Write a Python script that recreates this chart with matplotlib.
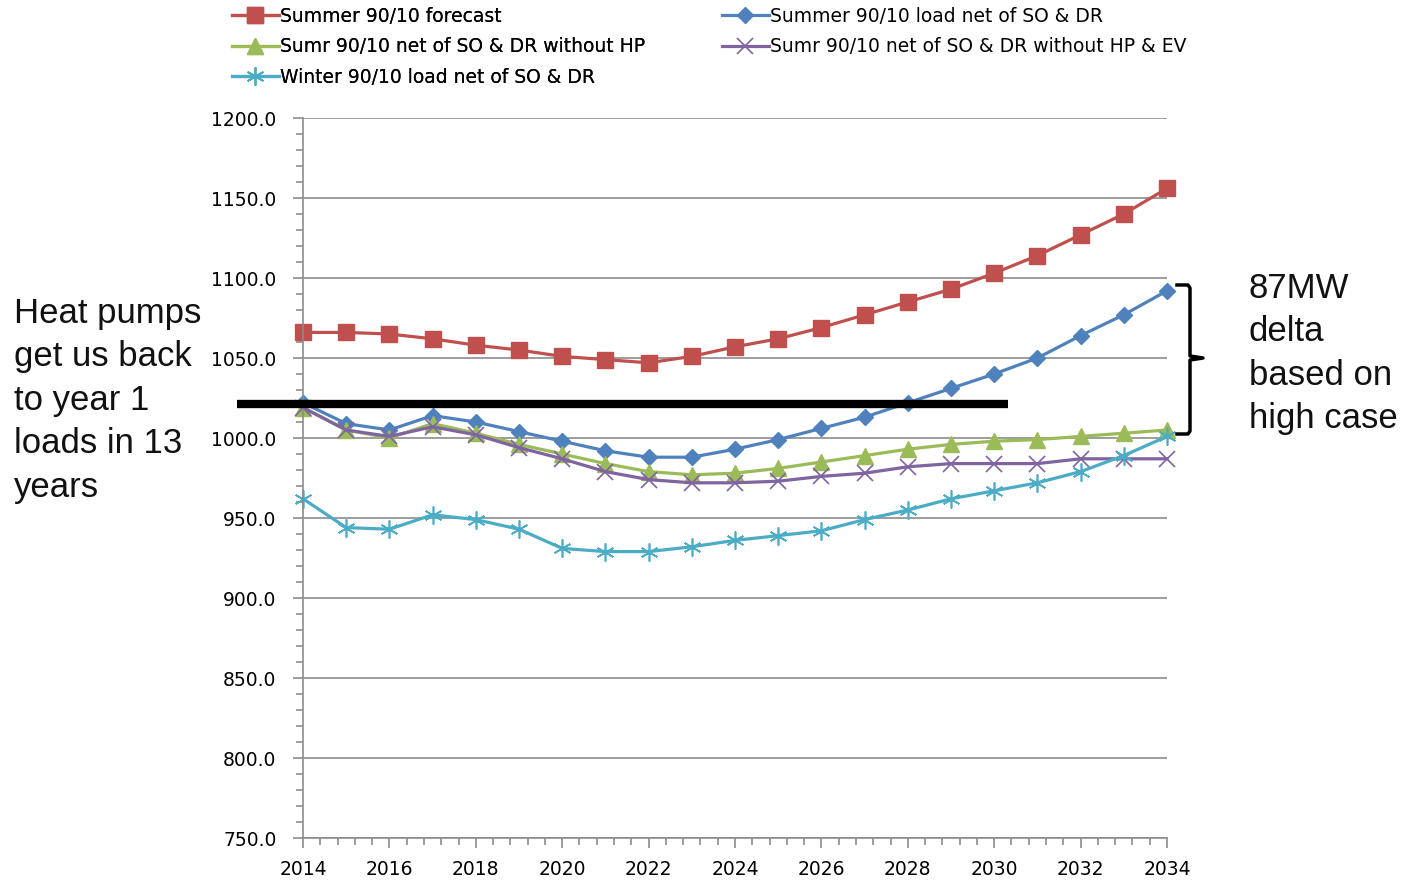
import matplotlib
matplotlib.use('Agg')
import matplotlib.pyplot as plt
from matplotlib.ticker import MultipleLocator, FormatStrFormatter
from matplotlib.lines import Line2D

# datos
anios = list(range(2014, 2035))

verano_pronostico = [1066, 1066, 1065, 1062, 1058, 1055, 1051, 1049, 1047, 1051, 1057,
                     1062, 1069, 1077, 1085, 1093, 1103, 1114, 1127, 1140, 1156]
verano_neto = [1022, 1009, 1005, 1014, 1010, 1004, 998, 992, 988, 988, 993,
               999, 1006, 1013, 1022, 1031, 1040, 1050, 1064, 1077, 1092]
verano_sin_hp = [1019, 1005, 1000, 1009, 1003, 996, 990, 984, 979, 977, 978,
                 981, 985, 989, 993, 996, 998, 999, 1001, 1003, 1005]
verano_sin_hp_ev = [1019, 1005, 1001, 1007, 1002, 994, 987, 979, 974, 972, 972,
                    973, 976, 978, 982, 984, 984, 984, 987, 987, 987]
invierno_neto = [962, 944, 943, 952, 949, 943, 931, 929, 929, 932, 936,
                 939, 942, 949, 955, 962, 967, 972, 979, 989, 1001]

etiquetas = ['Summer 90/10 forecast',
             'Summer 90/10 load net of SO & DR',
             'Sumr 90/10 net of SO & DR without HP',
             'Sumr 90/10 net of SO & DR without HP & EV',
             'Winter 90/10 load net of SO & DR']

nivel_anio1 = 1021

fig = plt.figure(figsize=(14.1, 8.81), dpi=100)
ax = fig.add_axes([303 / 1410, 1 - 838 / 881, 864 / 1410, 720 / 881])

l1, = ax.plot(anios, verano_pronostico, color='#C0504D', lw=2.3, marker='s', ms=12, clip_on=False)
l2, = ax.plot(anios, verano_neto, color='#4F81BD', lw=2.3, marker='D', ms=8.5, clip_on=False)
l3, = ax.plot(anios, verano_sin_hp, color='#9BBB59', lw=2.3, marker='^', ms=11, clip_on=False)
l4, = ax.plot(anios, verano_sin_hp_ev, color='#8064A2', lw=2.3, marker='x', ms=11, mew=1.2, clip_on=False)
l5, = ax.plot(anios, invierno_neto, color='#4BACC6', lw=2.3, marker=(6, 2, 0), ms=13, mew=1.2, clip_on=False)

ax.set_xlim(2014, 2034)
ax.set_ylim(750, 1200)
ax.xaxis.set_major_locator(MultipleLocator(2))
ax.xaxis.set_minor_locator(MultipleLocator(0.4))
ax.yaxis.set_major_locator(MultipleLocator(50))
ax.yaxis.set_minor_locator(MultipleLocator(10))
ax.yaxis.set_major_formatter(FormatStrFormatter('%.1f'))
ax.grid(True, axis='y', color='#8c8c8c', lw=1.2)
ax.set_axisbelow(True)
for s in ['top', 'right']:
    ax.spines[s].set_visible(False)
for s in ['left', 'bottom']:
    ax.spines[s].set_color('#8c8c8c')
    ax.spines[s].set_linewidth(1.2)
ax.tick_params(which='both', color='#8c8c8c', width=1.2, labelsize=13.5, direction='out')
ax.tick_params(which='major', length=7)
ax.tick_params(which='minor', length=5)
ax.tick_params(axis='x', pad=9)
ax.tick_params(axis='y', pad=12)

# linea negra del nivel del anio 1
ax.plot([2012.47, 2030.32], [nivel_anio1, nivel_anio1], color='black', lw=6,
        solid_capstyle='butt', clip_on=False, zorder=5)

# corchete a la derecha
def px(x, y):
    return x / 1410, 1 - y / 881

xs = [1177, 1188, 1190, 1190, 1203, 1190, 1190, 1188, 1177]
ys = [285, 285, 288, 356, 358, 360, 431, 434, 434]
fx = [px(a, b)[0] for a, b in zip(xs, ys)]
fy = [px(a, b)[1] for a, b in zip(xs, ys)]
fig.add_artist(Line2D(fx, fy, color='black', lw=2.5))

fig.text(14 / 1410, 1 - 297 / 881, 'Heat pumps\nget us back\nto year 1\nloads in 13\nyears',
         fontsize=25, family='Liberation Sans', color='#111111', va='top', ha='left',
         linespacing=1.4)
fig.text(1249 / 1410, 1 - 272 / 881, '87MW\ndelta\nbased on\nhigh case',
         fontsize=25, family='Liberation Sans', color='#111111', va='top', ha='left',
         linespacing=1.4)

leg1 = fig.legend([l1, l3, l5], [etiquetas[0], etiquetas[2], etiquetas[4]],
                  loc='upper left', bbox_to_anchor=(228 / 1410, 1 - 3 / 881),
                  frameon=False, fontsize=13.5, handlelength=2.5, handletextpad=0.1,
                  labelspacing=0.62, borderaxespad=0, borderpad=0.2)
leg2 = fig.legend([l2, l4], [etiquetas[1], etiquetas[3]],
                  loc='upper left', bbox_to_anchor=(718 / 1410, 1 - 3 / 881),
                  frameon=False, fontsize=13.5, handlelength=2.5, handletextpad=0.1,
                  labelspacing=0.62, borderaxespad=0, borderpad=0.2)
fig.add_artist(leg1)

fig.savefig('out.png', dpi=100)
